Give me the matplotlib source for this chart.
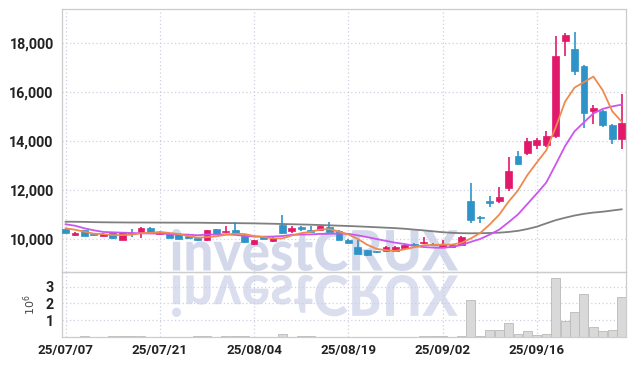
import numpy as np
import matplotlib
matplotlib.use("Agg")
import matplotlib.pyplot as plt
from matplotlib import font_manager
from matplotlib.patches import Rectangle, PathPatch
from matplotlib.textpath import TextPath
from matplotlib.font_manager import FontProperties
from matplotlib.transforms import Affine2D, IdentityTransform

# daily candles, 60 trading days
opens = [10420, 10175, 10367, 10190, 10150, 10285, 9985, 10240, 10310, 10473,
         10200, 10228, 10204, 10147, 10065, 9985, 10420, 10285, 10390, 10122,
         9796, 10060, 9930, 10583, 10340, 10470, 10390, 10390, 10500, 10340,
         9985, 9700, 9563, 9500, 9535, 9510, 9645, 9780, 9837, 9780,
         9685, 9700, 9755, 11575, 10920, 11540, 11575, 12093, 13400, 13533,
         13860, 13835, 14215, 18078, 17776, 17070, 15222, 15247, 14676, 14080]
highs = [10450, 10290, 10390, 10230, 10260, 10300, 10300, 10420, 10500, 10490,
         10310, 10250, 10220, 10160, 10080, 10390, 10440, 10530, 10690, 10140,
         9975, 10110, 10090, 10990, 10555, 10530, 10555, 10560, 10690, 10360,
         10000, 9970, 9580, 9540, 9720, 9720, 9780, 9850, 10110, 9830,
         9985, 9790, 10130, 12285, 10940, 11767, 12146, 13345, 13590, 14133,
         14133, 14406, 18295, 18405, 18458, 17100, 15467, 15260, 14700, 15928]
lows = [10240, 10135, 10130, 10122, 10130, 10020, 9970, 10106, 10040, 10270,
        10175, 10050, 10000, 10020, 9940, 9930, 10200, 10260, 10240, 9860,
        9780, 10010, 9900, 10230, 10257, 10340, 10290, 10370, 10290, 9970,
        9830, 9380, 9330, 9440, 9510, 9490, 9630, 9720, 9820, 9730,
        9670, 9680, 9740, 10677, 10653, 11330, 11470, 11958, 13040, 13427,
        13697, 13754, 14133, 17478, 16690, 14541, 14704, 14594, 13888, 13697]
closes = [10260, 10260, 10150, 10160, 10230, 10040, 10285, 10220, 10470, 10285,
          10257, 10065, 10012, 10040, 9960, 10367, 10228, 10340, 10257, 9878,
          9960, 10030, 10065, 10245, 10473, 10440, 10310, 10530, 10310, 9985,
          9850, 9400, 9347, 9470, 9700, 9700, 9755, 9750, 9890, 9750,
          9767, 9767, 10106, 10787, 10870, 11500, 11740, 12787, 13072, 14023,
          14051, 14215, 17478, 18323, 16879, 15165, 15357, 14651, 14080, 14733]

# volume in millions of shares
volume = [0.005, 0.005, 0.03, 0.005, 0.005, 0.03, 0.03, 0.03, 0.03, 0.005,
          0.005, 0.005, 0.005, 0.005, 0.03, 0.03, 0.005, 0.03, 0.03, 0.03,
          0.005, 0.005, 0.005, 0.15, 0.005, 0.03, 0.03, 0.005, 0.005, 0.005,
          0.005, 0.005, 0.005, 0.005, 0.005, 0.005, 0.005, 0.005, 0.03, 0.03,
          0.03, 0.005, 0.04, 2.2, 0.08, 0.4, 0.4, 0.86, 0.2, 0.38,
          0.1, 0.2, 3.5, 0.94, 1.46, 2.54, 0.58, 0.38, 0.44, 2.36]

# moving averages as shown on the chart
ma5 = [10449, 10392, 10310, 10228, 10212, 10168, 10173, 10187, 10249, 10260,
       10303, 10259, 10218, 10132, 10067, 10089, 10121, 10187, 10230, 10214,
       10133, 10093, 10038, 10036, 10155, 10251, 10307, 10400, 10413, 10315,
       10197, 10015, 9778, 9610, 9553, 9523, 9594, 9675, 9759, 9769,
       9782, 9785, 9856, 10035, 10259, 10606, 11001, 11537, 11994, 12624,
       13135, 13630, 14568, 15618, 16189, 16412, 16640, 16075, 15226, 14797]
ma10 = [10612, 10555, 10449, 10367, 10300, 10285, 10270, 10257, 10245, 10236,
        10236, 10216, 10202, 10190, 10163, 10196, 10190, 10202, 10181, 10140,
        10111, 10107, 10113, 10133, 10184, 10192, 10200, 10219, 10224, 10235,
        10224, 10161, 10089, 10012, 9934, 9860, 9805, 9727, 9685, 9661,
        9653, 9690, 9766, 9897, 10014, 10194, 10393, 10696, 11015, 11442,
        11870, 12315, 13052, 13806, 14407, 14773, 15135, 15321, 15422, 15493]
ma60 = [10718, 10715, 10710, 10700, 10695, 10690, 10688, 10685, 10685, 10683,
        10682, 10680, 10680, 10678, 10677, 10672, 10668, 10664, 10660, 10655,
        10650, 10642, 10634, 10624, 10615, 10605, 10595, 10582, 10570, 10556,
        10543, 10527, 10510, 10492, 10474, 10455, 10430, 10395, 10365, 10325,
        10290, 10265, 10250, 10245, 10248, 10258, 10270, 10300, 10345, 10420,
        10515, 10650, 10780, 10880, 10970, 11040, 11090, 11126, 11175, 11224]

tick_pos = [0, 10, 20, 30, 40, 50]
tick_labels = ['25/07/07', '25/07/21', '25/08/04', '25/08/19', '25/09/02', '25/09/16']
price_ticks = [10000, 12000, 14000, 16000, 18000]
vol_ticks = [1, 2, 3]

up_col = '#e2196a'
down_col = '#2e93c8'
grid_col = '#cdd0e2'
spine_col = '#cccccc'

fig = plt.figure(figsize=(6.34, 3.66), dpi=100)
fig.patch.set_facecolor('white')
ax = fig.add_axes([62 / 634, 94 / 366, 564 / 634, 263 / 366])
axv = fig.add_axes([62 / 634, 29 / 366, 564 / 634, 65 / 366], sharex=ax)
for a in (ax, axv):
    a.set_facecolor('none')
    for s in a.spines.values():
        s.set_color(spine_col)
        s.set_linewidth(0.9)

# watermark and its reflection
tp = TextPath((0, 0), 'investCRUX', size=50,
              prop=FontProperties(family=['Lato', 'DejaVu Sans'], weight='black'))
ext = tp.get_extents()
x0, x1, base, top = 172, 458, 95, 137
tr = Affine2D().translate(-ext.x0, -ext.y0).scale((x1 - x0) / ext.width,
                                                    (top - base) / ext.height).translate(x0, base)
wm = PathPatch(tr.transform_path(tp), transform=IdentityTransform(),
               fc='#d3d8ea', ec='none', zorder=-1)
fig.add_artist(wm)
tr2 = tr + Affine2D().scale(1, -1).translate(0, 2 * 93)
wm2 = PathPatch(tr2.transform_path(tp), transform=IdentityTransform(),
                fc='#dadeee', ec='none', zorder=-1)
fig.add_artist(wm2)

# candles
x = np.arange(len(closes))
w = 0.72
for i in x:
    o, h, l, c = opens[i], highs[i], lows[i], closes[i]
    col = up_col if c >= o else down_col
    ax.vlines(i, l, h, color=col, lw=1.2, zorder=3)
    lo, hi = min(o, c), max(o, c)
    ax.add_patch(Rectangle((i - w / 2, lo), w, max(hi - lo, 45),
                           facecolor=col, edgecolor=col, lw=0.5, zorder=4))

ax.plot(x, ma60, color='#7f7f7f', lw=1.3, zorder=2)
ax.plot(x, ma10, color='#cc55ee', lw=1.3, zorder=5)
ax.plot(x, ma5, color='#ef8a4e', lw=1.3, zorder=5)

axv.bar(x, volume, width=0.95, color='#d9d9d9', edgecolor='#b9b9b9', lw=0.6, zorder=2)

ax.set_xlim(-0.38, 59.46)
ax.set_ylim(8666, 19396)
axv.set_ylim(0, 3.87)

ax.set_yticks(price_ticks)
ax.set_yticklabels([f'{v:,}' for v in price_ticks])
axv.set_yticks(vol_ticks)
axv.set_yticklabels([str(v) for v in vol_ticks])
axv.set_xticks(tick_pos)
axv.set_xticklabels(tick_labels)
ax.tick_params(axis='x', labelbottom=False, length=0)
ax.tick_params(axis='y', length=0, pad=6)
axv.tick_params(axis='y', length=0, pad=6)
axv.tick_params(axis='x', length=0, pad=5)
for lab in ax.get_yticklabels() + axv.get_yticklabels():
    lab.set_fontfamily('Roboto')
    lab.set_fontweight('bold')
    lab.set_fontsize(10.3)
    lab.set_color('#222222')
for lab in axv.get_xticklabels():
    lab.set_fontfamily('Roboto')
    lab.set_fontweight('bold')
    lab.set_fontsize(9.6)
    lab.set_color('#222222')

for a in (ax, axv):
    a.grid(True, linestyle=(0, (1, 2)), color=grid_col, lw=0.9, zorder=0)
    a.set_axisbelow(True)

axv.set_ylabel(r'$10^6$', fontsize=8, color='#444444')
axv.yaxis.set_label_coords(-0.043, 0.5)

fig.savefig('out.png', dpi=100)
